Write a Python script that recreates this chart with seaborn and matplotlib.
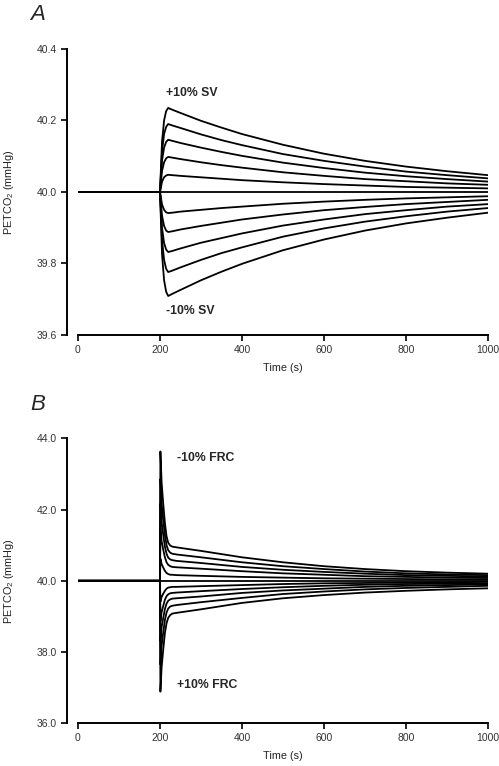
import numpy as np
import pandas as pd
import matplotlib
matplotlib.use("Agg")
import matplotlib.pyplot as plt
import seaborn as sns

# ---- panel A: stroke volume step (PETCO2, mmHg) ----
time_a = [0, 200, 205, 210, 215, 220, 230, 250, 300, 350, 400, 500, 600, 700, 800, 900, 1000]

sv_p10 = [40.000, 40.000, 40.141, 40.200, 40.226, 40.235, 40.230, 40.221, 40.199, 40.180, 40.162, 40.132, 40.107, 40.087, 40.071, 40.058, 40.047]
sv_p8 = [40.000, 40.000, 40.114, 40.162, 40.182, 40.190, 40.186, 40.179, 40.161, 40.145, 40.131, 40.106, 40.087, 40.071, 40.057, 40.047, 40.038]
sv_p6 = [40.000, 40.000, 40.088, 40.124, 40.140, 40.146, 40.143, 40.137, 40.124, 40.112, 40.101, 40.082, 40.067, 40.054, 40.044, 40.036, 40.029]
sv_p4 = [40.000, 40.000, 40.059, 40.083, 40.094, 40.098, 40.096, 40.092, 40.083, 40.075, 40.068, 40.055, 40.045, 40.036, 40.030, 40.024, 40.020]
sv_p2 = [40.000, 40.000, 40.029, 40.041, 40.046, 40.048, 40.047, 40.045, 40.041, 40.037, 40.033, 40.027, 40.022, 40.018, 40.014, 40.012, 40.010]
sv_0 = [40.000, 40.000, 40.000, 40.000, 40.000, 40.000, 40.000, 40.000, 40.000, 40.000, 40.000, 40.000, 40.000, 40.000, 40.000, 40.000, 40.000]
sv_m2 = [40.000, 40.000, 39.965, 39.950, 39.943, 39.941, 39.942, 39.945, 39.950, 39.955, 39.959, 39.967, 39.973, 39.978, 39.982, 39.985, 39.988]
sv_m4 = [40.000, 40.000, 39.933, 39.905, 39.892, 39.888, 39.890, 39.895, 39.905, 39.914, 39.923, 39.937, 39.949, 39.958, 39.966, 39.972, 39.978]
sv_m6 = [40.000, 40.000, 39.899, 39.857, 39.839, 39.832, 39.835, 39.842, 39.858, 39.871, 39.884, 39.906, 39.923, 39.938, 39.949, 39.959, 39.966]
sv_m8 = [40.000, 40.000, 39.866, 39.810, 39.785, 39.776, 39.780, 39.789, 39.810, 39.829, 39.845, 39.875, 39.898, 39.917, 39.932, 39.945, 39.955]
sv_m10 = [40.000, 40.000, 39.825, 39.753, 39.721, 39.709, 39.715, 39.726, 39.753, 39.777, 39.799, 39.837, 39.867, 39.892, 39.912, 39.928, 39.942]

# ---- panel B: FRC step ----
time_b = [0, 200, 201, 204, 208, 212, 216, 220, 225, 230, 240, 300, 400, 500, 600, 700, 800, 900, 1000]

frc_m10 = [40, 40, 43.63, 42.75, 42.15, 41.62, 41.25, 41.07, 40.99, 40.96, 40.94, 40.84, 40.66, 40.52, 40.41, 40.33, 40.27, 40.23, 40.20]
frc_m8 = [40, 40, 42.86, 42.17, 41.70, 41.28, 41.00, 40.86, 40.79, 40.76, 40.74, 40.66, 40.52, 40.41, 40.33, 40.26, 40.21, 40.18, 40.16]
frc_m6 = [40, 40, 42.16, 41.64, 41.28, 40.96, 40.76, 40.65, 40.60, 40.58, 40.56, 40.50, 40.39, 40.31, 40.25, 40.20, 40.16, 40.14, 40.12]
frc_m4 = [40, 40, 41.47, 41.11, 40.87, 40.66, 40.52, 40.45, 40.41, 40.39, 40.38, 40.34, 40.27, 40.21, 40.17, 40.13, 40.11, 40.09, 40.08]
frc_m2 = [40, 40, 40.62, 40.47, 40.37, 40.28, 40.22, 40.19, 40.17, 40.17, 40.16, 40.14, 40.11, 40.09, 40.07, 40.06, 40.05, 40.04, 40.04]
frc_0 = [40, 40, 40, 40, 40, 40, 40, 40, 40, 40, 40, 40, 40, 40, 40, 40, 40, 40, 40]
frc_p2 = [40, 40, 39.41, 39.55, 39.64, 39.72, 39.78, 39.81, 39.82, 39.83, 39.83, 39.85, 39.88, 39.91, 39.93, 39.94, 39.95, 39.96, 39.97]
frc_p4 = [40, 40, 38.86, 39.12, 39.30, 39.47, 39.57, 39.62, 39.65, 39.66, 39.67, 39.71, 39.77, 39.82, 39.86, 39.89, 39.91, 39.92, 39.93]
frc_p6 = [40, 40, 38.31, 38.70, 38.96, 39.21, 39.36, 39.44, 39.48, 39.50, 39.51, 39.56, 39.66, 39.73, 39.78, 39.83, 39.86, 39.88, 39.90]
frc_p8 = [40, 40, 37.65, 38.18, 38.56, 38.90, 39.11, 39.22, 39.28, 39.30, 39.32, 39.40, 39.52, 39.63, 39.70, 39.76, 39.80, 39.83, 39.86]
frc_p10 = [40, 40, 36.89, 37.58, 38.08, 38.54, 38.81, 38.96, 39.04, 39.08, 39.10, 39.20, 39.38, 39.51, 39.60, 39.67, 39.72, 39.76, 39.79]

curves_a = {"+10": sv_p10, "+8": sv_p8, "+6": sv_p6, "+4": sv_p4, "+2": sv_p2, "0": sv_0,
            "-2": sv_m2, "-4": sv_m4, "-6": sv_m6, "-8": sv_m8, "-10": sv_m10}
curves_b = {"-10": frc_m10, "-8": frc_m8, "-6": frc_m6, "-4": frc_m4, "-2": frc_m2, "0": frc_0,
            "+2": frc_p2, "+4": frc_p4, "+6": frc_p6, "+8": frc_p8, "+10": frc_p10}


def to_long(times, curves):
    rows = []
    for name, vals in curves.items():
        for t, v in zip(times, vals):
            rows.append({"time": t, "petco2": v, "curve": name})
    return pd.DataFrame(rows)


df_a = to_long(time_a, curves_a)
df_b = to_long(time_b, curves_b)

sns.set_style("ticks")
plt.rcParams["font.family"] = ["Liberation Sans", "DejaVu Sans"]
plt.rcParams["mathtext.default"] = "regular"

fig = plt.figure(figsize=(4.99, 7.66), dpi=100)
ax_a = fig.add_axes([0.1563, 0.5627, 0.8216, 0.3734])
ax_b = fig.add_axes([0.1563, 0.0557, 0.8216, 0.3721])


def style_axis(ax, ylim, yticks):
    ax.set_xlim(0, 1000)
    ax.set_ylim(*ylim)
    ax.set_xticks([0, 200, 400, 600, 800, 1000])
    ax.set_yticks(yticks)
    ax.set_yticklabels([f"{v:.1f}" for v in yticks])
    sns.despine(ax=ax)
    ax.spines["left"].set_position(("outward", 8))
    for s in ("left", "bottom"):
        ax.spines[s].set_linewidth(1.4)
        ax.spines[s].set_color("black")
    ax.tick_params(axis="both", labelsize=7.5, colors="black", labelcolor="#333333",
                   width=1.2, length=4, pad=3)
    ax.set_xlabel("Time (s)", fontsize=7.8, color="#222222", labelpad=6)
    ax.set_ylabel("$\\mathregular{PETCO_2}$ (mmHg)", fontsize=7.8, color="#222222")
    ax.yaxis.set_label_coords(-0.15, 0.5)


for ax, df in ((ax_a, df_a), (ax_b, df_b)):
    sns.lineplot(data=df, x="time", y="petco2", units="curve", estimator=None,
                 sort=False, color="black", linewidth=1.3, ax=ax)

style_axis(ax_a, (39.6, 40.4), [39.6, 39.8, 40.0, 40.2, 40.4])
style_axis(ax_b, (36.0, 44.0), [36.0, 38.0, 40.0, 42.0, 44.0])

ax_a.text(215, 40.276, "+10% SV", fontsize=8.8, fontweight="bold", va="center")
ax_a.text(215, 39.666, "-10% SV", fontsize=8.8, fontweight="bold", va="center")
ax_b.text(241, 43.45, "-10% FRC", fontsize=8.8, fontweight="bold", va="center")
ax_b.text(241, 37.07, "+10% FRC", fontsize=8.8, fontweight="bold", va="center")

fig.text(0.06, 0.995, "A", fontsize=16, fontstyle="italic", va="top")
fig.text(0.06, 0.486, "B", fontsize=16, fontstyle="italic", va="top")

fig.savefig("out.png", dpi=100)
